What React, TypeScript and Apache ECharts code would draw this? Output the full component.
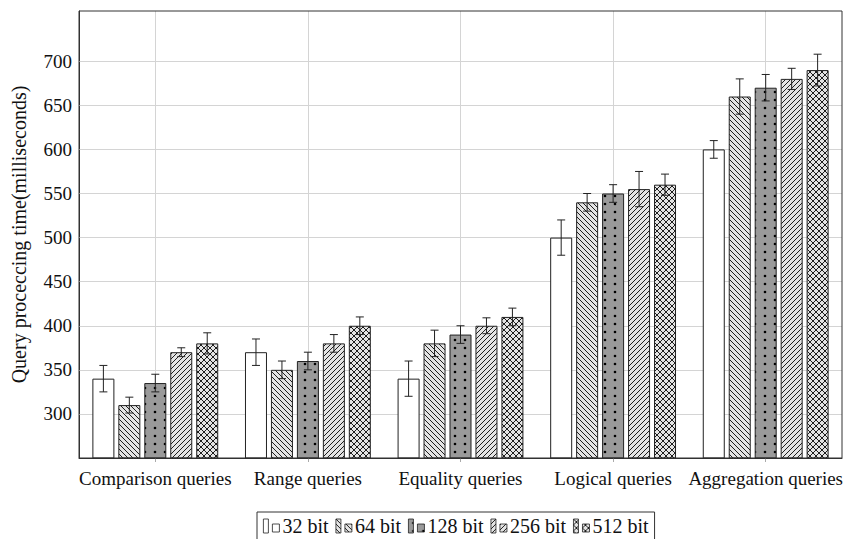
import React, { useEffect, useRef } from "react";
import * as echarts from "echarts";

const categories = [
  "Comparison queries",
  "Range queries",
  "Equality queries",
  "Logical queries",
  "Aggregation queries",
];
const seriesNames = ["32 bit", "64 bit", "128 bit", "256 bit", "512 bit"];

// bar heights per series (ms)
const v32 = [340, 370, 340, 500, 600];
const v64 = [310, 350, 380, 540, 660];
const v128 = [335, 360, 390, 550, 670];
const v256 = [370, 380, 400, 555, 680];
const v512 = [380, 400, 410, 560, 690];

// error half-widths per series
const e32 = [15, 15, 20, 20, 10];
const e64 = [9, 10, 15, 10, 20];
const e128 = [10, 10, 10, 10, 15];
const e256 = [5, 10, 9, 20, 12];
const e512 = [12, 10, 10, 12, 18];

const yTicks = [300, 350, 400, 450, 500, 550, 600, 650, 700];

const FONT = "'Liberation Serif', 'Times New Roman', serif";
const BAR_W = 22;
const BAR_GAP = 0.18;
const STEP = BAR_W * (1 + BAR_GAP);

function tile(w: number, h: number, bg: string, draw: (ctx: CanvasRenderingContext2D) => void) {
  const c = document.createElement("canvas");
  c.width = w;
  c.height = h;
  const ctx = c.getContext("2d")!;
  ctx.fillStyle = bg;
  ctx.fillRect(0, 0, w, h);
  draw(ctx);
  return c;
}

export default function App() {
  const ref = useRef<HTMLDivElement>(null);
  useEffect(() => {
    if (!ref.current) return;
    const chart = echarts.init(ref.current, null, { renderer: "svg" });
    const values = [v32, v64, v128, v256, v512];
    const errors = [e32, e64, e128, e256, e512];
    const light = "#e4e4e4";
    const ink = "#1e1e1e";
    const P = 5;
    const back = tile(P, P, light, (ctx) => {
      ctx.strokeStyle = ink;
      ctx.lineWidth = 1;
      ctx.beginPath();
      for (const k of [-P, 0, P]) {
        ctx.moveTo(k, 0);
        ctx.lineTo(k + P, P);
      }
      ctx.stroke();
    });
    const fwd = tile(P, P, light, (ctx) => {
      ctx.strokeStyle = ink;
      ctx.lineWidth = 1;
      ctx.beginPath();
      for (const k of [-P, 0, P]) {
        ctx.moveTo(k + P, 0);
        ctx.lineTo(k, P);
      }
      ctx.stroke();
    });
    const Q = 6;
    const cross = tile(Q, Q, light, (ctx) => {
      ctx.strokeStyle = ink;
      ctx.lineWidth = 1;
      ctx.beginPath();
      for (const k of [-Q, 0, Q]) {
        ctx.moveTo(k, 0);
        ctx.lineTo(k + Q, Q);
        ctx.moveTo(k + Q, 0);
        ctx.lineTo(k, Q);
      }
      ctx.stroke();
    });
    const dots = tile(10, 8, "#9a9a9a", (ctx) => {
      ctx.fillStyle = "#000";
      ctx.beginPath();
      ctx.arc(5, 4, 1.3, 0, Math.PI * 2);
      ctx.fill();
    });
    const fills: any[] = [
      "#ffffff",
      { image: back, repeat: "repeat" },
      { image: dots, repeat: "repeat" },
      { image: fwd, repeat: "repeat" },
      { image: cross, repeat: "repeat" },
    ];

    const barSeries = seriesNames.map((name, i) => ({
      name,
      type: "bar",
      barWidth: BAR_W,
      barGap: `${BAR_GAP * 100}%`,
      data: values[i],
      itemStyle: { color: fills[i], borderColor: "#222", borderWidth: 1 },
      z: 3,
      ...(i === 2
        ? {
            markLine: {
              silent: true,
              symbol: "none",
              label: { show: false },
              animation: false,
              z: 1,
              lineStyle: { color: "#d4d4d4", width: 1, type: "solid" },
              data: [
                ...yTicks.map((t) => ({ yAxis: t })),
                ...categories.map((c) => ({ xAxis: c })),
              ],
            },
          }
        : {}),
    }));

    const errData: number[][] = [];
    for (let i = 0; i < seriesNames.length; i++) {
      for (let j = 0; j < categories.length; j++) {
        errData.push([j, i, values[i][j] - errors[i][j], values[i][j] + errors[i][j]]);
      }
    }

    chart.setOption({
      animation: false,
      textStyle: { fontFamily: FONT },
      grid: {
        left: 79,
        right: 8,
        top: 11,
        bottom: 81,
        show: true,
        borderColor: "#333",
        borderWidth: 1,
        outerBoundsMode: "none",
        containLabel: false,
        z: 10,
      },
      legend: {
        data: seriesNames,
        top: 512,
        left: 257,
        orient: "horizontal",
        itemGap: 7,
        itemWidth: 16,
        itemHeight: 14,
        icon: "path://M0,0 L5,0 L5,14 L0,14 Z M9,5 L16,5 L16,13 L9,13 Z",
        itemStyle: { borderWidth: 0.8, borderColor: "#222" },
        borderColor: "#333",
        borderWidth: 1,
        padding: [4, 6, 12, 6],
        textStyle: { fontFamily: FONT, fontSize: 20, color: "#111", padding: [0, 0, 0, -2] },
      },
      xAxis: {
        type: "category",
        data: categories,
        axisLine: { show: true, lineStyle: { color: "#333" } },
        axisTick: { show: true, alignWithLabel: true, inside: false, length: 4, lineStyle: { color: "#aaa" } },
        axisLabel: { fontFamily: FONT, fontSize: 19, color: "#111", margin: 11, interval: 0 },
        splitLine: { show: false },
      },
      yAxis: {
        type: "value",
        min: 250,
        max: 757,
        interval: 50,
        name: "Query proceccing time(milliseconds)",
        nameLocation: "middle",
        nameGap: 50,
        nameRotate: 90,
        nameTextStyle: { fontFamily: FONT, fontSize: 20, color: "#111" },
        axisLine: { show: true, lineStyle: { color: "#333" } },
        axisTick: { show: true, inside: true, length: 4, customValues: yTicks, lineStyle: { color: "#555" } },
        axisLabel: {
          fontFamily: FONT,
          fontSize: 19,
          color: "#111",
          margin: 7,
          customValues: yTicks,
          formatter: (v: number) => (yTicks.includes(v) ? String(v) : ""),
        },
        splitLine: { show: false },
      },
      series: [
        ...barSeries,
        {
          type: "custom",
          name: "errors",
          z: 5,
          silent: true,
          encode: { x: 0, y: [2, 3] },
          data: errData,
          renderItem: (params: any, api: any) => {
            const cat = api.value(0);
            const si = api.value(1);
            const lo = api.coord([cat, api.value(2)]);
            const hi = api.coord([cat, api.value(3)]);
            const x = lo[0] + (si - 2) * STEP;
            const half = 4;
            const st = { stroke: "#222", lineWidth: 1 };
            return {
              type: "group",
              children: [
                { type: "line", shape: { x1: x, y1: hi[1], x2: x, y2: lo[1] }, style: st },
                { type: "line", shape: { x1: x - half, y1: hi[1], x2: x + half, y2: hi[1] }, style: st },
                { type: "line", shape: { x1: x - half, y1: lo[1], x2: x + half, y2: lo[1] }, style: st },
              ],
            };
          },
        },
      ],
    });
    return () => chart.dispose();
  }, []);
  return <div ref={ref} style={{ width: 850, height: 539, position: "absolute", left: 0, top: 0 }} />;
}
